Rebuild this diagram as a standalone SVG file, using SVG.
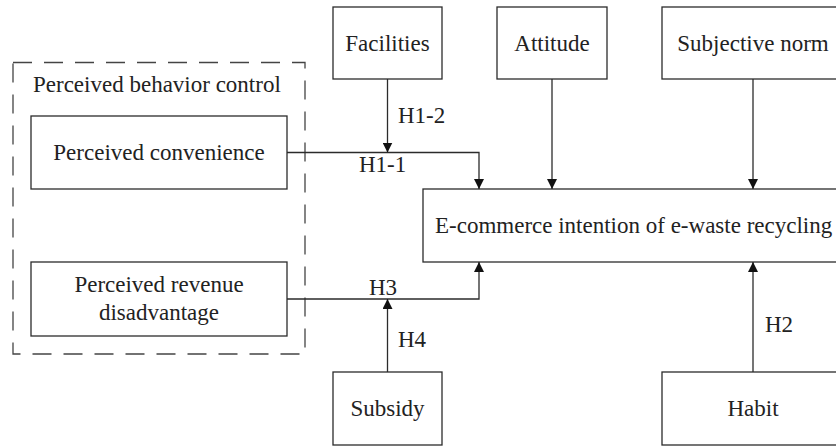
<svg xmlns="http://www.w3.org/2000/svg" width="836" height="447" viewBox="0 0 836 447">
<defs>
<style>
.box{fill:#fff;stroke:#2b2b2b;stroke-width:1.3}
.dash{fill:none;stroke:#444;stroke-width:1.3;stroke-dasharray:19 12}
.ln{fill:none;stroke:#2b2b2b;stroke-width:1.3}
text{font-family:"Liberation Serif","Times New Roman",serif;font-size:23px;fill:#222}
.c{text-anchor:middle}
</style>
<marker id="ah" viewBox="0 0 10 10" refX="10" refY="5" markerWidth="10" markerHeight="10" markerUnits="userSpaceOnUse" orient="auto">
<path d="M0,0 L10,5 L0,10 z" fill="#111"/>
</marker>
</defs>
<rect width="836" height="447" fill="#fff"/>
<g id="pbc">
<rect class="dash" x="13" y="62.5" width="292" height="291.5"/>
<text x="33" y="92">Perceived behavior control</text>
</g>
<g id="convenience">
<rect class="box" x="31" y="116" width="256" height="73"/>
<text class="c" x="159" y="160">Perceived convenience</text>
</g>
<g id="revenue">
<rect class="box" x="31" y="262" width="256" height="74"/>
<text class="c" x="159" y="292">Perceived revenue</text>
<text class="c" x="159" y="320">disadvantage</text>
</g>
<g id="facilities">
<rect class="box" x="333" y="7" width="109" height="72"/>
<text class="c" x="387.5" y="50.5">Facilities</text>
</g>
<g id="attitude">
<rect class="box" x="497" y="7" width="110" height="72"/>
<text class="c" x="552" y="50.5">Attitude</text>
</g>
<g id="subjective">
<rect class="box" x="662" y="7" width="182" height="72"/>
<text class="c" x="753" y="50.5">Subjective norm</text>
</g>
<g id="intention">
<rect class="box" x="423" y="189" width="425" height="73"/>
<text x="435" y="233">E-commerce intention of e-waste recycling</text>
</g>
<g id="subsidy">
<rect class="box" x="333" y="372" width="109" height="73"/>
<text class="c" x="387.5" y="416">Subsidy</text>
</g>
<g id="habit">
<rect class="box" x="662" y="372" width="182" height="73"/>
<text class="c" x="753" y="416">Habit</text>
</g>
<g id="connectors">
<path class="ln" d="M287,152.5 H479 V189" marker-end="url(#ah)"/>
<path class="ln" d="M387.5,79 V152.5" marker-end="url(#ah)"/>
<path class="ln" d="M552,79 V189" marker-end="url(#ah)"/>
<path class="ln" d="M753,79 V189" marker-end="url(#ah)"/>
<path class="ln" d="M287,299 H479 V262" marker-end="url(#ah)"/>
<path class="ln" d="M387.5,372 V299" marker-end="url(#ah)"/>
<path class="ln" d="M753,372 V262" marker-end="url(#ah)"/>
<text x="398" y="123">H1-2</text>
<text x="359" y="172">H1-1</text>
<text x="369" y="295">H3</text>
<text x="398" y="347">H4</text>
<text x="765" y="332">H2</text>
</g>
</svg>
